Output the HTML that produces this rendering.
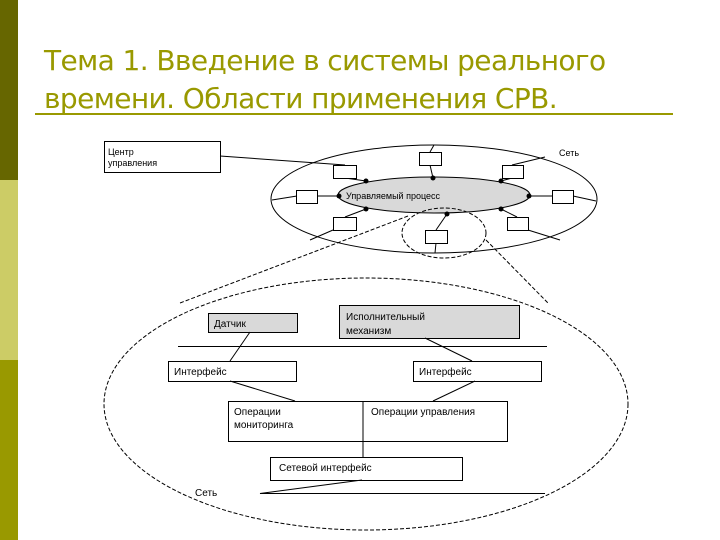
<!DOCTYPE html><html><head><meta charset="utf-8"><style>
body{margin:0;width:720px;height:540px;background:#fff;position:relative;overflow:hidden;font-family:"Liberation Sans",sans-serif}
.t{position:absolute;left:44px;top:42px;font-size:28px;line-height:38px;color:#999900;font-family:"DejaVu Sans","Liberation Sans",sans-serif;letter-spacing:-0.6px;white-space:nowrap}
</style></head><body>
<div style="position:absolute;left:0;top:0;width:18px;height:180px;background:#666600"></div>
<div style="position:absolute;left:0;top:180px;width:18px;height:180px;background:#cccc66"></div>
<div style="position:absolute;left:0;top:360px;width:18px;height:180px;background:#999900"></div>
<div class="t">Тема 1. Введение в системы реального<br>времени. Области применения СРВ.</div>
<div style="position:absolute;left:35px;top:113px;width:638px;height:2px;background:#999900"></div>
<svg width="720" height="540" style="position:absolute;left:0;top:0" font-family="Liberation Sans, sans-serif" font-size="10">
<g stroke="#000" stroke-width="1" fill="none">
<ellipse cx="434" cy="199" rx="163" ry="54"/>
<ellipse cx="434" cy="195" rx="96" ry="18" fill="#d9d9d9"/>
<rect x="104.5" y="141.5" width="116" height="31" fill="#fff"/>
<line x1="220" y1="156" x2="345" y2="165"/>
<line x1="345" y1="178" x2="366" y2="181"/>
<line x1="430" y1="165" x2="433" y2="178"/>
<line x1="430" y1="152" x2="434" y2="145"/>
<line x1="512" y1="178" x2="501" y2="181"/>
<line x1="512" y1="165" x2="545" y2="157"/>
<line x1="318" y1="196" x2="339" y2="196"/>
<line x1="297" y1="196" x2="272" y2="200"/>
<line x1="529" y1="196" x2="552" y2="196"/>
<line x1="573" y1="196" x2="596" y2="201"/>
<line x1="345" y1="217" x2="366" y2="209"/>
<line x1="333" y1="230" x2="310" y2="240"/>
<line x1="517" y1="217" x2="501" y2="209"/>
<line x1="528" y1="230" x2="560" y2="240"/>
<line x1="436" y1="230" x2="447" y2="214"/>
<line x1="436" y1="243" x2="435" y2="253"/>
<rect x="333.5" y="165.5" width="23" height="13" fill="#fff"/>
<rect x="419.5" y="152.5" width="22" height="13" fill="#fff"/>
<rect x="502.5" y="165.5" width="21" height="13" fill="#fff"/>
<rect x="296.5" y="190.5" width="21" height="13" fill="#fff"/>
<rect x="552.5" y="190.5" width="21" height="13" fill="#fff"/>
<rect x="333.5" y="217.5" width="23" height="13" fill="#fff"/>
<rect x="425.5" y="230.5" width="22" height="13" fill="#fff"/>
<rect x="507.5" y="217.5" width="21" height="13" fill="#fff"/>
<g stroke-dasharray="4,2">
<ellipse cx="444" cy="233" rx="42" ry="25"/>
<line x1="408" y1="216" x2="180" y2="303"/>
<line x1="486" y1="240" x2="548" y2="303"/>
<ellipse cx="366" cy="404" rx="262" ry="126"/>
</g>
<rect x="208.5" y="313.5" width="89" height="19" fill="#d9d9d9"/>
<rect x="339.5" y="305.5" width="180" height="33" fill="#d9d9d9"/>
<line x1="178" y1="346.5" x2="547" y2="346.5"/>
<line x1="250" y1="332" x2="230" y2="361"/>
<line x1="425" y1="338" x2="472" y2="361"/>
<rect x="168.5" y="361.5" width="128" height="20" fill="#fff"/>
<rect x="413.5" y="361.5" width="128" height="20" fill="#fff"/>
<line x1="230" y1="381" x2="295" y2="401"/>
<line x1="475" y1="381" x2="433" y2="401"/>
<rect x="228.5" y="401.5" width="279" height="40" fill="#fff"/>
<line x1="363" y1="401" x2="363" y2="457"/>
<rect x="270.5" y="457.5" width="192" height="23" fill="#fff"/>
<polyline points="362,480 260,493.5 545,493.5"/>
</g>
<g fill="#000">
<circle cx="366" cy="181" r="2.5"/><circle cx="433" cy="178" r="2.5"/><circle cx="501" cy="181" r="2.5"/>
<circle cx="339" cy="196" r="2.5"/><circle cx="529" cy="196" r="2.5"/><circle cx="366" cy="209" r="2.5"/>
<circle cx="447" cy="214" r="2.5"/><circle cx="501" cy="209" r="2.5"/>
<text x="108" y="155" font-size="9">Центр</text>
<text x="108" y="166" font-size="9">управления</text>
<text x="559" y="156" font-size="9">Сеть</text>
<text x="346" y="199" font-size="9">Управляемый процесс</text>
<text x="214" y="327">Датчик</text>
<text x="346" y="320">Исполнительный</text>
<text x="346" y="334">механизм</text>
<text x="174" y="375">Интерфейс</text>
<text x="419" y="375">Интерфейс</text>
<text x="234" y="415">Операции</text>
<text x="234" y="428">мониторинга</text>
<text x="371" y="415">Операции управления</text>
<text x="279" y="471">Сетевой интерфейс</text>
<text x="195" y="496">Сеть</text>
</g>
</svg>
</body></html>
